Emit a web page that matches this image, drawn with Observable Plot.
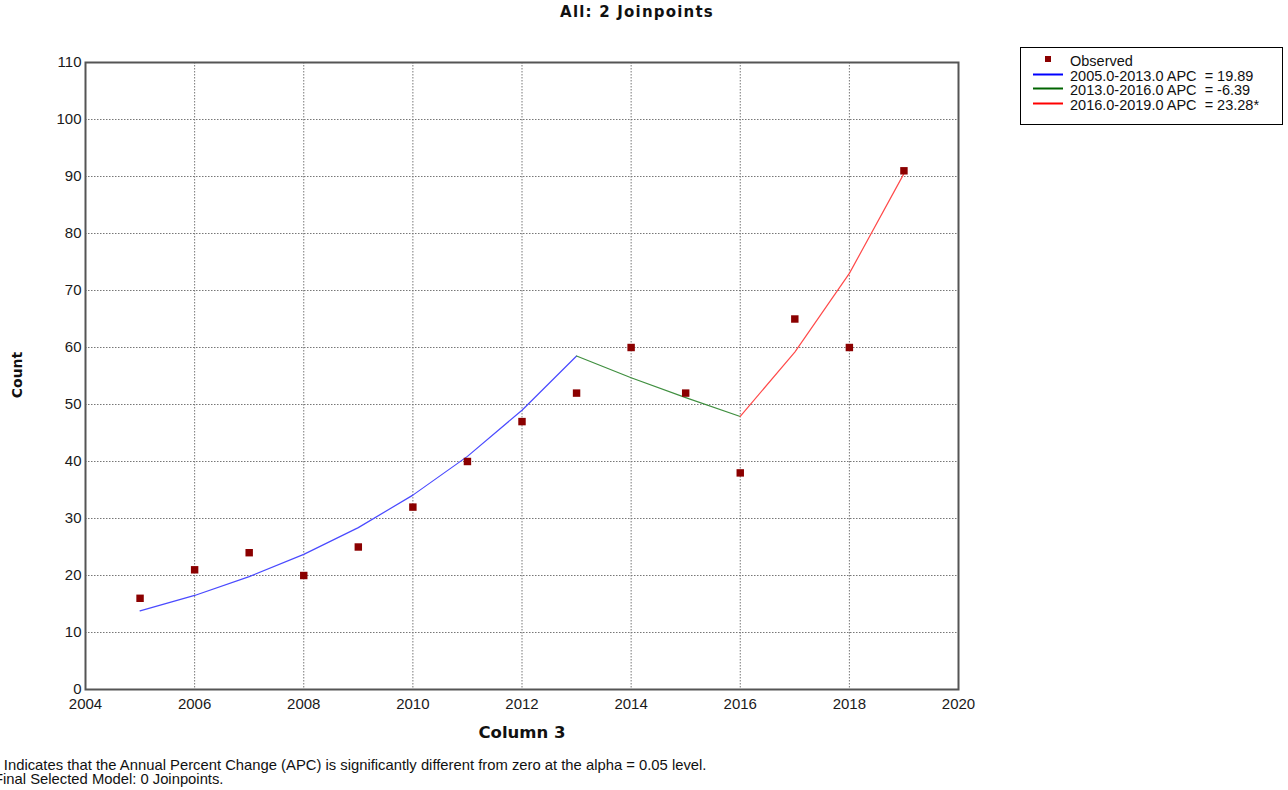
<!DOCTYPE html>
<html>
<head>
<meta charset="utf-8">
<script src="https://cdn.jsdelivr.net/npm/d3@7"></script>
<script src="https://cdn.jsdelivr.net/npm/@observablehq/plot@0.6"></script>
<style>
  html, body { margin: 0; padding: 0; background: #fff; overflow: hidden; }
  #wrap { position: relative; width: 1288px; height: 790px; overflow: hidden; font-family: "Liberation Sans", Arial, sans-serif; }
  #chart { position: absolute; left: 0; top: 0; }
  .abs { position: absolute; white-space: pre; color: #111; }
  #title { left: 0; width: 1274px; top: 3px; text-align: center; font-family: "DejaVu Sans", Verdana, sans-serif; font-weight: bold; font-size: 15px; letter-spacing: 1.2px; }
  #ylab { left: 17px; top: 375px; transform: translate(-50%, -50%) rotate(-90deg); font-family: "DejaVu Sans", Verdana, sans-serif; font-weight: bold; font-size: 14px; }
  #xlab { left: 522px; top: 723px; transform: translateX(-50%); font-family: "DejaVu Sans", Verdana, sans-serif; font-weight: bold; font-size: 16.5px; }
  #foot { left: -6px; top: 758px; font-size: 14.8px; line-height: 14px; color: #111; }
  #legend { left: 1020px; top: 47px; width: 261px; height: 76px; border: 1px solid #000; background: #fff; }
  .lrow { position: absolute; left: 0; height: 14px; width: 261px; font-size: 14.5px; line-height: 14px; }
  .lrow svg { position: absolute; left: 12px; top: 0; }
  .lrow span { position: absolute; left: 49px; top: 0; white-space: pre; color: #111; }
</style>
</head>
<body>
<div id="wrap">
  <div id="chart"></div>
  <div id="title" class="abs"></div>
  <div id="ylab" class="abs">Count</div>
  <div id="xlab" class="abs">Column 3</div>
  <div id="legend" class="abs"></div>
  <div id="foot" class="abs"></div>
</div>
<script>
// ---- data ----
const years = [2005, 2006, 2007, 2008, 2009, 2010, 2011, 2012, 2013, 2014, 2015, 2016, 2017, 2018, 2019];
const observed = [16, 21, 24, 20, 25, 32, 40, 47, 52, 60, 52, 38, 65, 60, 91];

const seg1Years = [2005, 2006, 2007, 2008, 2009, 2010, 2011, 2012, 2013];
const seg1Fit = [13.8, 16.5, 19.8, 23.7, 28.4, 34.1, 40.9, 49.0, 58.5];
const seg2Years = [2013, 2014, 2015, 2016];
const seg2Fit = [58.5, 54.7, 51.2, 47.9];
const seg3Years = [2016, 2017, 2018, 2019];
const seg3Fit = [47.9, 59.2, 73.0, 90.5];

const segLabels = ["2005.0-2013.0 APC  = 19.89", "2013.0-2016.0 APC  = -6.39", "2016.0-2019.0 APC  = 23.28*"];
const segColors = ["#4a4aff", "#3f8f3f", "#ff4a4a"];
const legendColors = ["#0000ff", "#006400", "#ff0000"];
const observedLabel = "Observed";

const xTicks = [2004, 2006, 2008, 2010, 2012, 2014, 2016, 2018, 2020];
const xGrid = [2006, 2008, 2010, 2012, 2014, 2016, 2018];
const yTicks = [0, 10, 20, 30, 40, 50, 60, 70, 80, 90, 100, 110];
const yGrid = [10, 20, 30, 40, 50, 60, 70, 80, 90, 100];

const titleText = "All: 2 Joinpoints";
const footLines = [
  "* Indicates that the Annual Percent Change (APC) is significantly different from zero at the alpha = 0.05 level.",
  "Final Selected Model: 0 Joinpoints."
];

// ---- build tables ----
const obs = years.map((y, i) => ({year: y, value: observed[i]}));
const s1 = seg1Years.map((y, i) => ({year: y, value: seg1Fit[i]}));
const s2 = seg2Years.map((y, i) => ({year: y, value: seg2Fit[i]}));
const s3 = seg3Years.map((y, i) => ({year: y, value: seg3Fit[i]}));

const chart = Plot.plot({
  width: 1288,
  height: 790,
  marginLeft: 85,
  marginRight: 330,
  marginTop: 62,
  marginBottom: 101,
  style: {fontFamily: "'Liberation Sans', Arial, sans-serif", fontSize: "15px", color: "#1a1a1a", background: "transparent"},
  x: {domain: [2004, 2020], label: null},
  y: {domain: [0, 110], label: null},
  marks: [
    Plot.gridY(yGrid, {stroke: "#777", strokeOpacity: 1, strokeDasharray: "1.5,1.5", strokeWidth: 1}),
    Plot.gridX(xGrid, {stroke: "#777", strokeOpacity: 1, strokeDasharray: "1.5,1.5", strokeWidth: 1}),
    Plot.frame({stroke: "#555", strokeWidth: 2}),
    Plot.axisX(xTicks, {tickSize: 0, tickPadding: 9, tickFormat: d => String(d), label: null, fontSize: 15}),
    Plot.axisY(yTicks, {tickSize: 0, tickPadding: 4, label: null, fontSize: 15}),
    Plot.line(s1, {x: "year", y: "value", stroke: segColors[0], strokeWidth: 1.2}),
    Plot.line(s2, {x: "year", y: "value", stroke: segColors[1], strokeWidth: 1.2}),
    Plot.line(s3, {x: "year", y: "value", stroke: segColors[2], strokeWidth: 1.2}),
    Plot.dot(obs, {x: "year", y: "value", symbol: "square", r: 4.2, fill: "#8b0000", stroke: "none"})
  ]
});
document.getElementById("chart").appendChild(chart);

document.getElementById("title").textContent = titleText;
document.getElementById("foot").textContent = footLines.join("\n");

// legend
const legend = document.getElementById("legend");
const rows = [{label: observedLabel, type: "dot"}].concat(segLabels.map((l, i) => ({label: l, type: "line", color: legendColors[i]})));
rows.forEach((r, i) => {
  const row = document.createElement("div");
  row.className = "lrow";
  row.style.top = (6 + i * 14.5) + "px";
  const sw = r.type === "dot"
    ? `<svg width="30" height="14"><rect x="12" y="2" width="6" height="6" fill="#8b0000"/></svg>`
    : `<svg width="30" height="14"><line x1="0" x2="30" y1="5.5" y2="5.5" stroke="${r.color}" stroke-width="2"/></svg>`;
  row.innerHTML = sw + `<span></span>`;
  row.querySelector("span").textContent = r.label;
  legend.appendChild(row);
});
</script>
</body>
</html>
